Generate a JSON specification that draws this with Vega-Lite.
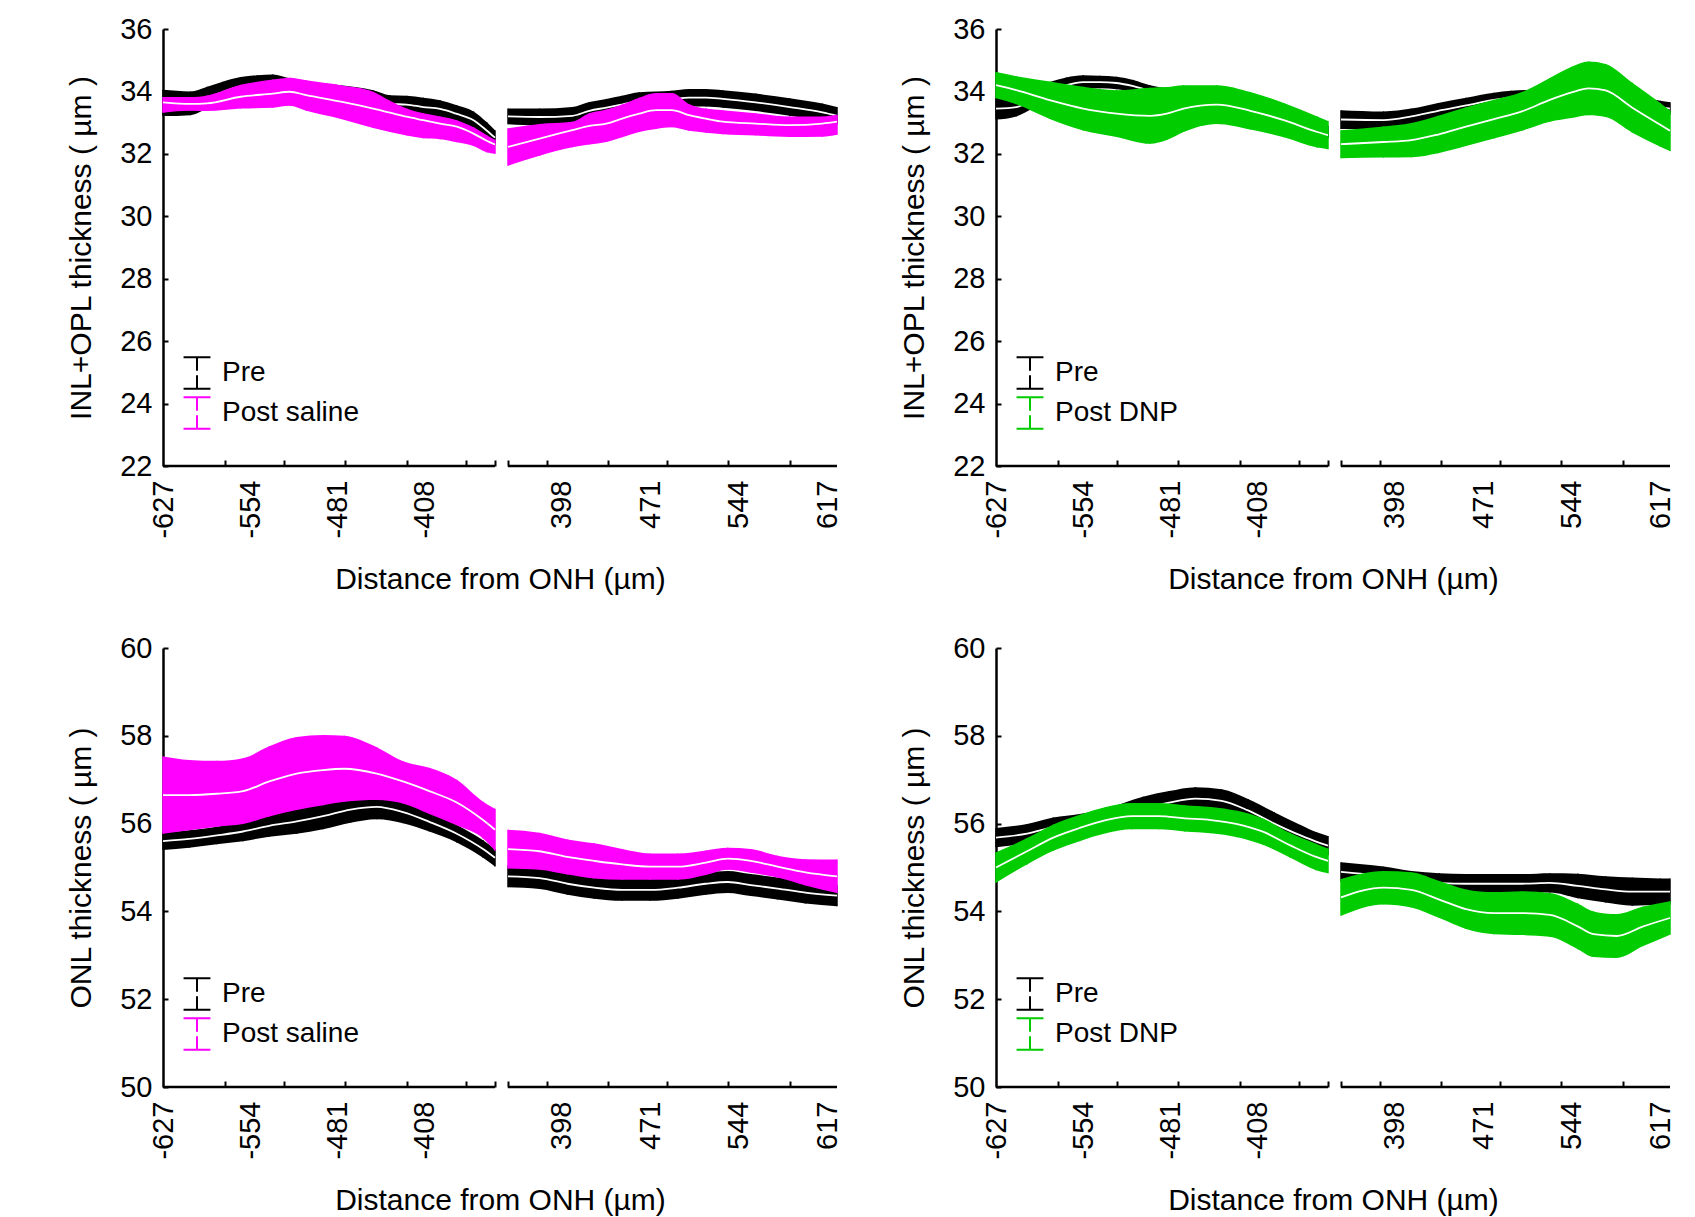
{
"$schema": "https://vega.github.io/schema/vega-lite/v6.json",
"background": "white",
"padding": {"left": 66, "top": 15, "right": 10, "bottom": 10},
"config": {"font": "Liberation Sans", "view": {"stroke": null}, "axis": {"labelColor": "black", "titleColor": "black", "labelFont": "Liberation Sans", "titleFont": "Liberation Sans", "grid": false}, "legend": {"labelFont": "Liberation Sans", "labelColor": "black"}},
"datasets": {"d": [
{"p":"A","s":"Pre","x":-627,"m":33.63,"lo":33.21,"hi":34.05},
{"p":"A","s":"Pre","x":-604,"m":33.62,"lo":33.24,"hi":34.0},
{"p":"A","s":"Pre","x":-590,"m":33.8,"lo":33.45,"hi":34.15},
{"p":"A","s":"Pre","x":-577,"m":33.98,"lo":33.65,"hi":34.31},
{"p":"A","s":"Pre","x":-562,"m":34.16,"lo":33.86,"hi":34.46},
{"p":"A","s":"Pre","x":-548,"m":34.22,"lo":33.92,"hi":34.52},
{"p":"A","s":"Pre","x":-535,"m":34.24,"lo":33.94,"hi":34.54},
{"p":"A","s":"Pre","x":-521,"m":34.14,"lo":33.86,"hi":34.42},
{"p":"A","s":"Pre","x":-507,"m":34.03,"lo":33.75,"hi":34.31},
{"p":"A","s":"Pre","x":-478,"m":33.92,"lo":33.64,"hi":34.2},
{"p":"A","s":"Pre","x":-451,"m":33.76,"lo":33.48,"hi":34.04},
{"p":"A","s":"Pre","x":-437,"m":33.6,"lo":33.32,"hi":33.88},
{"p":"A","s":"Pre","x":-423,"m":33.58,"lo":33.3,"hi":33.86},
{"p":"A","s":"Pre","x":-409,"m":33.5,"lo":33.22,"hi":33.8},
{"p":"A","s":"Pre","x":-395,"m":33.44,"lo":33.16,"hi":33.72},
{"p":"A","s":"Pre","x":-381,"m":33.28,"lo":33.0,"hi":33.56},
{"p":"A","s":"Pre","x":-367,"m":33.08,"lo":32.8,"hi":33.36},
{"p":"A","s":"Pre","x":-356,"m":32.75,"lo":32.48,"hi":33.02},
{"p":"A","s":"Pre","x":-349,"m":32.52,"lo":32.3,"hi":32.76},
{"p":"A","s":"Pre","x":354,"m":33.2,"lo":32.95,"hi":33.45},
{"p":"A","s":"Pre","x":380,"m":33.18,"lo":32.91,"hi":33.45},
{"p":"A","s":"Pre","x":407,"m":33.22,"lo":32.94,"hi":33.5},
{"p":"A","s":"Pre","x":421,"m":33.38,"lo":33.1,"hi":33.66},
{"p":"A","s":"Pre","x":435,"m":33.48,"lo":33.2,"hi":33.76},
{"p":"A","s":"Pre","x":448,"m":33.58,"lo":33.3,"hi":33.86},
{"p":"A","s":"Pre","x":462,"m":33.69,"lo":33.41,"hi":33.97},
{"p":"A","s":"Pre","x":489,"m":33.74,"lo":33.46,"hi":34.02},
{"p":"A","s":"Pre","x":503,"m":33.8,"lo":33.52,"hi":34.08},
{"p":"A","s":"Pre","x":517,"m":33.8,"lo":33.52,"hi":34.08},
{"p":"A","s":"Pre","x":531,"m":33.76,"lo":33.48,"hi":34.04},
{"p":"A","s":"Pre","x":558,"m":33.65,"lo":33.37,"hi":33.93},
{"p":"A","s":"Pre","x":586,"m":33.5,"lo":33.22,"hi":33.78},
{"p":"A","s":"Pre","x":613,"m":33.33,"lo":33.05,"hi":33.61},
{"p":"A","s":"Pre","x":625,"m":33.22,"lo":32.94,"hi":33.5},
{"p":"A","s":"Post saline","x":-627,"m":33.65,"lo":33.32,"hi":33.82},
{"p":"A","s":"Post saline","x":-604,"m":33.6,"lo":33.38,"hi":33.82},
{"p":"A","s":"Post saline","x":-590,"m":33.62,"lo":33.37,"hi":33.87},
{"p":"A","s":"Post saline","x":-562,"m":33.83,"lo":33.45,"hi":34.21},
{"p":"A","s":"Post saline","x":-535,"m":33.93,"lo":33.48,"hi":34.38},
{"p":"A","s":"Post saline","x":-521,"m":33.99,"lo":33.54,"hi":34.44},
{"p":"A","s":"Post saline","x":-507,"m":33.88,"lo":33.38,"hi":34.36},
{"p":"A","s":"Post saline","x":-478,"m":33.67,"lo":33.12,"hi":34.2},
{"p":"A","s":"Post saline","x":-451,"m":33.45,"lo":32.83,"hi":33.99},
{"p":"A","s":"Post saline","x":-437,"m":33.32,"lo":32.7,"hi":33.7},
{"p":"A","s":"Post saline","x":-423,"m":33.19,"lo":32.59,"hi":33.45},
{"p":"A","s":"Post saline","x":-409,"m":33.08,"lo":32.5,"hi":33.3},
{"p":"A","s":"Post saline","x":-395,"m":32.97,"lo":32.47,"hi":33.2},
{"p":"A","s":"Post saline","x":-381,"m":32.87,"lo":32.37,"hi":33.08},
{"p":"A","s":"Post saline","x":-367,"m":32.65,"lo":32.25,"hi":32.85},
{"p":"A","s":"Post saline","x":-356,"m":32.42,"lo":32.05,"hi":32.6},
{"p":"A","s":"Post saline","x":-349,"m":32.3,"lo":32.0,"hi":32.45},
{"p":"A","s":"Post saline","x":354,"m":32.22,"lo":31.62,"hi":32.82},
{"p":"A","s":"Post saline","x":380,"m":32.49,"lo":31.94,"hi":32.96},
{"p":"A","s":"Post saline","x":407,"m":32.76,"lo":32.21,"hi":33.03},
{"p":"A","s":"Post saline","x":421,"m":32.9,"lo":32.3,"hi":33.3},
{"p":"A","s":"Post saline","x":435,"m":32.97,"lo":32.38,"hi":33.42},
{"p":"A","s":"Post saline","x":448,"m":33.13,"lo":32.53,"hi":33.58},
{"p":"A","s":"Post saline","x":462,"m":33.29,"lo":32.7,"hi":33.8},
{"p":"A","s":"Post saline","x":476,"m":33.4,"lo":32.8,"hi":33.95},
{"p":"A","s":"Post saline","x":489,"m":33.4,"lo":32.85,"hi":33.95},
{"p":"A","s":"Post saline","x":503,"m":33.24,"lo":32.74,"hi":33.6},
{"p":"A","s":"Post saline","x":517,"m":33.13,"lo":32.68,"hi":33.45},
{"p":"A","s":"Post saline","x":531,"m":33.03,"lo":32.63,"hi":33.4},
{"p":"A","s":"Post saline","x":558,"m":32.97,"lo":32.59,"hi":33.3},
{"p":"A","s":"Post saline","x":586,"m":32.92,"lo":32.54,"hi":33.2},
{"p":"A","s":"Post saline","x":613,"m":32.97,"lo":32.55,"hi":33.2},
{"p":"A","s":"Post saline","x":625,"m":33.03,"lo":32.61,"hi":33.25},
{"p":"B","s":"Pre","x":-627,"m":33.45,"lo":33.1,"hi":33.8},
{"p":"B","s":"Pre","x":-610,"m":33.5,"lo":33.2,"hi":33.8},
{"p":"B","s":"Pre","x":-596,"m":33.75,"lo":33.45,"hi":34.05},
{"p":"B","s":"Pre","x":-582,"m":34.0,"lo":33.7,"hi":34.3},
{"p":"B","s":"Pre","x":-568,"m":34.2,"lo":33.95,"hi":34.45},
{"p":"B","s":"Pre","x":-554,"m":34.3,"lo":34.08,"hi":34.52},
{"p":"B","s":"Pre","x":-540,"m":34.3,"lo":34.1,"hi":34.5},
{"p":"B","s":"Pre","x":-526,"m":34.27,"lo":34.07,"hi":34.47},
{"p":"B","s":"Pre","x":-512,"m":34.17,"lo":33.97,"hi":34.37},
{"p":"B","s":"Pre","x":-498,"m":34.02,"lo":33.84,"hi":34.2},
{"p":"B","s":"Pre","x":-484,"m":33.92,"lo":33.74,"hi":34.1},
{"p":"B","s":"Pre","x":-470,"m":33.85,"lo":33.65,"hi":34.05},
{"p":"B","s":"Pre","x":-442,"m":33.7,"lo":33.5,"hi":33.9},
{"p":"B","s":"Pre","x":-414,"m":33.5,"lo":33.3,"hi":33.7},
{"p":"B","s":"Pre","x":-386,"m":33.2,"lo":33.0,"hi":33.4},
{"p":"B","s":"Pre","x":-358,"m":32.8,"lo":32.6,"hi":33.0},
{"p":"B","s":"Pre","x":-349,"m":32.7,"lo":32.5,"hi":32.9},
{"p":"B","s":"Pre","x":354,"m":33.1,"lo":32.8,"hi":33.4},
{"p":"B","s":"Pre","x":389,"m":33.08,"lo":32.8,"hi":33.36},
{"p":"B","s":"Pre","x":412,"m":33.2,"lo":32.95,"hi":33.45},
{"p":"B","s":"Pre","x":434,"m":33.38,"lo":33.13,"hi":33.63},
{"p":"B","s":"Pre","x":457,"m":33.55,"lo":33.3,"hi":33.8},
{"p":"B","s":"Pre","x":480,"m":33.73,"lo":33.5,"hi":33.96},
{"p":"B","s":"Pre","x":494,"m":33.8,"lo":33.58,"hi":34.02},
{"p":"B","s":"Pre","x":520,"m":33.85,"lo":33.65,"hi":34.05},
{"p":"B","s":"Pre","x":548,"m":33.8,"lo":33.6,"hi":34.0},
{"p":"B","s":"Pre","x":576,"m":33.72,"lo":33.52,"hi":33.92},
{"p":"B","s":"Pre","x":600,"m":33.62,"lo":33.42,"hi":33.82},
{"p":"B","s":"Pre","x":617,"m":33.5,"lo":33.3,"hi":33.7},
{"p":"B","s":"Pre","x":625,"m":33.45,"lo":33.25,"hi":33.65},
{"p":"B","s":"Post DNP","x":-627,"m":34.2,"lo":33.78,"hi":34.62},
{"p":"B","s":"Post DNP","x":-610,"m":34.04,"lo":33.59,"hi":34.49},
{"p":"B","s":"Post DNP","x":-582,"m":33.72,"lo":33.12,"hi":34.32},
{"p":"B","s":"Post DNP","x":-554,"m":33.45,"lo":32.75,"hi":34.15},
{"p":"B","s":"Post DNP","x":-526,"m":33.29,"lo":32.54,"hi":34.04},
{"p":"B","s":"Post DNP","x":-498,"m":33.22,"lo":32.32,"hi":34.12},
{"p":"B","s":"Post DNP","x":-484,"m":33.29,"lo":32.44,"hi":34.14},
{"p":"B","s":"Post DNP","x":-470,"m":33.45,"lo":32.7,"hi":34.2},
{"p":"B","s":"Post DNP","x":-442,"m":33.58,"lo":32.96,"hi":34.2},
{"p":"B","s":"Post DNP","x":-414,"m":33.38,"lo":32.78,"hi":33.98},
{"p":"B","s":"Post DNP","x":-386,"m":33.08,"lo":32.53,"hi":33.63},
{"p":"B","s":"Post DNP","x":-358,"m":32.7,"lo":32.2,"hi":33.2},
{"p":"B","s":"Post DNP","x":-349,"m":32.6,"lo":32.15,"hi":33.05},
{"p":"B","s":"Post DNP","x":354,"m":32.31,"lo":31.86,"hi":32.76},
{"p":"B","s":"Post DNP","x":389,"m":32.38,"lo":31.88,"hi":32.88},
{"p":"B","s":"Post DNP","x":412,"m":32.44,"lo":31.89,"hi":32.99},
{"p":"B","s":"Post DNP","x":434,"m":32.62,"lo":32.02,"hi":33.22},
{"p":"B","s":"Post DNP","x":457,"m":32.87,"lo":32.25,"hi":33.49},
{"p":"B","s":"Post DNP","x":480,"m":33.11,"lo":32.49,"hi":33.73},
{"p":"B","s":"Post DNP","x":503,"m":33.36,"lo":32.74,"hi":33.98},
{"p":"B","s":"Post DNP","x":526,"m":33.73,"lo":33.03,"hi":34.43},
{"p":"B","s":"Post DNP","x":544,"m":33.97,"lo":33.15,"hi":34.79},
{"p":"B","s":"Post DNP","x":558,"m":34.1,"lo":33.24,"hi":34.96},
{"p":"B","s":"Post DNP","x":572,"m":34.03,"lo":33.18,"hi":34.88},
{"p":"B","s":"Post DNP","x":594,"m":33.48,"lo":32.68,"hi":34.28},
{"p":"B","s":"Post DNP","x":617,"m":32.93,"lo":32.23,"hi":33.63},
{"p":"B","s":"Post DNP","x":625,"m":32.74,"lo":32.09,"hi":33.39},
{"p":"C","s":"Pre","x":-627,"m":55.6,"lo":55.4,"hi":55.8},
{"p":"C","s":"Pre","x":-605,"m":55.65,"lo":55.45,"hi":55.85},
{"p":"C","s":"Pre","x":-582,"m":55.73,"lo":55.53,"hi":55.93},
{"p":"C","s":"Pre","x":-560,"m":55.82,"lo":55.6,"hi":56.04},
{"p":"C","s":"Pre","x":-538,"m":55.95,"lo":55.7,"hi":56.2},
{"p":"C","s":"Pre","x":-515,"m":56.05,"lo":55.77,"hi":56.33},
{"p":"C","s":"Pre","x":-493,"m":56.17,"lo":55.87,"hi":56.47},
{"p":"C","s":"Pre","x":-470,"m":56.32,"lo":56.02,"hi":56.62},
{"p":"C","s":"Pre","x":-448,"m":56.38,"lo":56.1,"hi":56.66},
{"p":"C","s":"Pre","x":-426,"m":56.26,"lo":56.01,"hi":56.51},
{"p":"C","s":"Pre","x":-404,"m":56.04,"lo":55.82,"hi":56.26},
{"p":"C","s":"Pre","x":-381,"m":55.77,"lo":55.57,"hi":55.97},
{"p":"C","s":"Pre","x":-359,"m":55.42,"lo":55.22,"hi":55.62},
{"p":"C","s":"Pre","x":-349,"m":55.22,"lo":55.02,"hi":55.42},
{"p":"C","s":"Pre","x":354,"m":54.8,"lo":54.55,"hi":55.05},
{"p":"C","s":"Pre","x":380,"m":54.76,"lo":54.51,"hi":55.01},
{"p":"C","s":"Pre","x":403,"m":54.63,"lo":54.38,"hi":54.88},
{"p":"C","s":"Pre","x":425,"m":54.54,"lo":54.29,"hi":54.79},
{"p":"C","s":"Pre","x":448,"m":54.49,"lo":54.24,"hi":54.74},
{"p":"C","s":"Pre","x":471,"m":54.49,"lo":54.24,"hi":54.74},
{"p":"C","s":"Pre","x":494,"m":54.54,"lo":54.29,"hi":54.79},
{"p":"C","s":"Pre","x":517,"m":54.63,"lo":54.38,"hi":54.88},
{"p":"C","s":"Pre","x":535,"m":54.67,"lo":54.42,"hi":54.92},
{"p":"C","s":"Pre","x":554,"m":54.6,"lo":54.35,"hi":54.85},
{"p":"C","s":"Pre","x":576,"m":54.52,"lo":54.27,"hi":54.77},
{"p":"C","s":"Pre","x":599,"m":54.43,"lo":54.18,"hi":54.68},
{"p":"C","s":"Pre","x":625,"m":54.36,"lo":54.12,"hi":54.6},
{"p":"C","s":"Post saline","x":-627,"m":56.65,"lo":55.77,"hi":57.53},
{"p":"C","s":"Post saline","x":-605,"m":56.65,"lo":55.85,"hi":57.45},
{"p":"C","s":"Post saline","x":-582,"m":56.68,"lo":55.93,"hi":57.43},
{"p":"C","s":"Post saline","x":-560,"m":56.74,"lo":55.99,"hi":57.49},
{"p":"C","s":"Post saline","x":-538,"m":56.96,"lo":56.16,"hi":57.76},
{"p":"C","s":"Post saline","x":-515,"m":57.14,"lo":56.31,"hi":57.97},
{"p":"C","s":"Post saline","x":-493,"m":57.22,"lo":56.42,"hi":58.02},
{"p":"C","s":"Post saline","x":-475,"m":57.25,"lo":56.5,"hi":58.0},
{"p":"C","s":"Post saline","x":-448,"m":57.14,"lo":56.54,"hi":57.74},
{"p":"C","s":"Post saline","x":-426,"m":56.96,"lo":56.46,"hi":57.42},
{"p":"C","s":"Post saline","x":-404,"m":56.74,"lo":56.22,"hi":57.27},
{"p":"C","s":"Post saline","x":-381,"m":56.48,"lo":55.96,"hi":57.0},
{"p":"C","s":"Post saline","x":-359,"m":56.08,"lo":55.66,"hi":56.5},
{"p":"C","s":"Post saline","x":-349,"m":55.86,"lo":55.38,"hi":56.34},
{"p":"C","s":"Post saline","x":354,"m":55.42,"lo":54.98,"hi":55.86},
{"p":"C","s":"Post saline","x":380,"m":55.37,"lo":54.95,"hi":55.79},
{"p":"C","s":"Post saline","x":403,"m":55.24,"lo":54.84,"hi":55.64},
{"p":"C","s":"Post saline","x":425,"m":55.15,"lo":54.75,"hi":55.55},
{"p":"C","s":"Post saline","x":448,"m":55.07,"lo":54.72,"hi":55.42},
{"p":"C","s":"Post saline","x":471,"m":55.02,"lo":54.72,"hi":55.32},
{"p":"C","s":"Post saline","x":494,"m":55.02,"lo":54.72,"hi":55.32},
{"p":"C","s":"Post saline","x":517,"m":55.11,"lo":54.83,"hi":55.39},
{"p":"C","s":"Post saline","x":535,"m":55.2,"lo":54.95,"hi":55.45},
{"p":"C","s":"Post saline","x":554,"m":55.15,"lo":54.88,"hi":55.42},
{"p":"C","s":"Post saline","x":576,"m":55.02,"lo":54.77,"hi":55.27},
{"p":"C","s":"Post saline","x":599,"m":54.89,"lo":54.59,"hi":55.19},
{"p":"C","s":"Post saline","x":625,"m":54.8,"lo":54.42,"hi":55.18},
{"p":"D","s":"Pre","x":-627,"m":55.68,"lo":55.46,"hi":55.9},
{"p":"D","s":"Pre","x":-601,"m":55.77,"lo":55.55,"hi":55.99},
{"p":"D","s":"Pre","x":-579,"m":55.92,"lo":55.7,"hi":56.14},
{"p":"D","s":"Pre","x":-557,"m":56.0,"lo":55.78,"hi":56.22},
{"p":"D","s":"Pre","x":-535,"m":56.1,"lo":55.86,"hi":56.34},
{"p":"D","s":"Pre","x":-504,"m":56.35,"lo":56.09,"hi":56.61},
{"p":"D","s":"Pre","x":-482,"m":56.48,"lo":56.22,"hi":56.74},
{"p":"D","s":"Pre","x":-460,"m":56.57,"lo":56.31,"hi":56.83},
{"p":"D","s":"Pre","x":-438,"m":56.52,"lo":56.26,"hi":56.78},
{"p":"D","s":"Pre","x":-416,"m":56.3,"lo":56.04,"hi":56.56},
{"p":"D","s":"Pre","x":-394,"m":56.0,"lo":55.74,"hi":56.26},
{"p":"D","s":"Pre","x":-372,"m":55.73,"lo":55.49,"hi":55.97},
{"p":"D","s":"Pre","x":-359,"m":55.59,"lo":55.37,"hi":55.81},
{"p":"D","s":"Pre","x":-349,"m":55.5,"lo":55.28,"hi":55.72},
{"p":"D","s":"Pre","x":354,"m":54.9,"lo":54.68,"hi":55.12},
{"p":"D","s":"Pre","x":389,"m":54.8,"lo":54.58,"hi":55.02},
{"p":"D","s":"Pre","x":412,"m":54.7,"lo":54.48,"hi":54.92},
{"p":"D","s":"Pre","x":435,"m":54.65,"lo":54.43,"hi":54.87},
{"p":"D","s":"Pre","x":457,"m":54.63,"lo":54.41,"hi":54.85},
{"p":"D","s":"Pre","x":480,"m":54.63,"lo":54.41,"hi":54.85},
{"p":"D","s":"Pre","x":503,"m":54.63,"lo":54.41,"hi":54.85},
{"p":"D","s":"Pre","x":526,"m":54.65,"lo":54.43,"hi":54.87},
{"p":"D","s":"Pre","x":549,"m":54.58,"lo":54.3,"hi":54.86},
{"p":"D","s":"Pre","x":572,"m":54.5,"lo":54.2,"hi":54.8},
{"p":"D","s":"Pre","x":594,"m":54.45,"lo":54.13,"hi":54.77},
{"p":"D","s":"Pre","x":617,"m":54.45,"lo":54.15,"hi":54.75},
{"p":"D","s":"Pre","x":625,"m":54.45,"lo":54.15,"hi":54.75},
{"p":"D","s":"Post DNP","x":-627,"m":55.0,"lo":54.65,"hi":55.35},
{"p":"D","s":"Post DNP","x":-601,"m":55.37,"lo":55.07,"hi":55.67},
{"p":"D","s":"Post DNP","x":-579,"m":55.68,"lo":55.38,"hi":55.98},
{"p":"D","s":"Post DNP","x":-557,"m":55.9,"lo":55.6,"hi":56.2},
{"p":"D","s":"Post DNP","x":-535,"m":56.08,"lo":55.78,"hi":56.38},
{"p":"D","s":"Post DNP","x":-513,"m":56.17,"lo":55.87,"hi":56.47},
{"p":"D","s":"Post DNP","x":-491,"m":56.17,"lo":55.87,"hi":56.47},
{"p":"D","s":"Post DNP","x":-469,"m":56.12,"lo":55.82,"hi":56.42},
{"p":"D","s":"Post DNP","x":-447,"m":56.08,"lo":55.78,"hi":56.38},
{"p":"D","s":"Post DNP","x":-425,"m":55.99,"lo":55.69,"hi":56.29},
{"p":"D","s":"Post DNP","x":-403,"m":55.81,"lo":55.51,"hi":56.11},
{"p":"D","s":"Post DNP","x":-381,"m":55.51,"lo":55.23,"hi":55.79},
{"p":"D","s":"Post DNP","x":-359,"m":55.24,"lo":54.94,"hi":55.54},
{"p":"D","s":"Post DNP","x":-349,"m":55.15,"lo":54.87,"hi":55.43},
{"p":"D","s":"Post DNP","x":354,"m":54.32,"lo":53.9,"hi":54.74},
{"p":"D","s":"Post DNP","x":389,"m":54.54,"lo":54.16,"hi":54.92},
{"p":"D","s":"Post DNP","x":412,"m":54.49,"lo":54.09,"hi":54.89},
{"p":"D","s":"Post DNP","x":435,"m":54.27,"lo":53.85,"hi":54.69},
{"p":"D","s":"Post DNP","x":457,"m":54.05,"lo":53.6,"hi":54.5},
{"p":"D","s":"Post DNP","x":480,"m":53.96,"lo":53.48,"hi":54.44},
{"p":"D","s":"Post DNP","x":503,"m":53.96,"lo":53.46,"hi":54.46},
{"p":"D","s":"Post DNP","x":526,"m":53.92,"lo":53.42,"hi":54.42},
{"p":"D","s":"Post DNP","x":549,"m":53.66,"lo":53.14,"hi":54.18},
{"p":"D","s":"Post DNP","x":562,"m":53.48,"lo":52.96,"hi":54.0},
{"p":"D","s":"Post DNP","x":581,"m":53.44,"lo":52.94,"hi":53.94},
{"p":"D","s":"Post DNP","x":603,"m":53.66,"lo":53.21,"hi":54.11},
{"p":"D","s":"Post DNP","x":625,"m":53.85,"lo":53.47,"hi":54.23}
]},
"data": {"name": "d"},
"columns": 2,
"spacing": {"row": 182, "column": 159},
"bounds": "flush",
"resolve": {"scale": {"x": "independent", "y": "independent", "stroke": "independent"}, "legend": {"stroke": "independent"}, "axis": {"x": "independent", "y": "independent"}},
"concat": [
{
 "width": 674, "height": 437,
 "transform": [{"filter": "datum.p == 'A'"}],
 "resolve": {"axis": {"x": "independent", "y": "independent"}},
 "encoding": {"x": {"field": "x", "type": "quantitative", "scale": {"domain": [-627, -349, 354, 625], "range": [0, 332, 345, 674], "nice": false, "zero": false}, "axis": null}},
 "layer": [
  {"transform": [{"filter": "datum.s == 'Pre'"}], "mark": {"type": "area", "color": "black", "interpolate": "monotone"},
   "encoding": {"x": {"field": "x", "type": "quantitative", "scale": {"domain": [-627, -349, 354, 625], "range": [0, 332, 345, 674], "nice": false, "zero": false}, "axis": {"orient": "bottom", "values": [-627, -554, -481, -408, 398, 471, 544, 617], "labelExpr": "'' + datum.value", "labelAngle": 270, "ticks": false, "domain": false, "labelPadding": 14, "labelFontSize": 29, "labelFlush": false, "labelOverlap": false, "title": "Distance from ONH (µm)", "titleFontSize": 30, "titleFontWeight": "normal", "titlePadding": 26}},
    "y": {"field": "lo", "type": "quantitative", "scale": {"domain": [22, 36], "nice": false, "zero": false}, "axis": {"orient": "left", "values": [22, 24, 26, 28, 30, 32, 34, 36], "tickSize": -5, "tickWidth": 2, "tickColor": "black", "domainColor": "black", "domainWidth": 2.5, "labelFontSize": 29, "labelPadding": 16, "title": "INL+OPL thickness ( µm )", "titleFontSize": 30, "titleFontWeight": "normal", "titlePadding": 23}},
    "y2": {"field": "hi"}, "detail": {"field": "x", "type": "quantitative", "bin": {"extent": [-700, 700], "step": 700}}}},
  {"transform": [{"filter": "datum.s == 'Pre'"}], "mark": {"type": "rule", "strokeWidth": 1.5},
   "encoding": {"y": {"field": "lo", "type": "quantitative", "scale": {"domain": [22, 36], "nice": false, "zero": false}, "axis": null}, "y2": {"field": "hi"},
    "stroke": {"field": "s", "type": "nominal", "scale": {"domain": ["Pre", "Post saline"], "range": ["black", "#ff00ff"]}, "legend": {"title": null, "orient": "none", "legendX": 17, "legendY": 327, "padding": 0, "symbolType": "M-0.85,-1H0.85M0,-1V-0.15M0,0.15V1M-0.85,1H0.85", "symbolSize": 1000, "symbolStrokeWidth": 2, "labelFontSize": 28, "labelOffset": 8, "rowPadding": 0}}}},
  {"transform": [{"filter": "datum.s == 'Pre'"}], "mark": {"type": "line", "color": "white", "strokeWidth": 1.8, "interpolate": "monotone"},
   "encoding": {"y": {"field": "m", "type": "quantitative", "scale": {"domain": [22, 36], "nice": false, "zero": false}, "axis": null}, "detail": {"field": "x", "type": "quantitative", "bin": {"extent": [-700, 700], "step": 700}}}},
  {"transform": [{"filter": "datum.s != 'Pre'"}], "mark": {"type": "area", "color": "#ff00ff", "interpolate": "monotone"},
   "encoding": {"y": {"field": "lo", "type": "quantitative", "scale": {"domain": [22, 36], "nice": false, "zero": false}, "axis": null}, "y2": {"field": "hi"}, "detail": {"field": "x", "type": "quantitative", "bin": {"extent": [-700, 700], "step": 700}}}},
  {"transform": [{"filter": "datum.s != 'Pre'"}], "mark": {"type": "rule", "strokeWidth": 1.5},
   "encoding": {"y": {"field": "lo", "type": "quantitative", "scale": {"domain": [22, 36], "nice": false, "zero": false}, "axis": null}, "y2": {"field": "hi"},
    "stroke": {"field": "s", "type": "nominal", "scale": {"domain": ["Pre", "Post saline"], "range": ["black", "#ff00ff"]}, "legend": {"title": null, "orient": "none", "legendX": 17, "legendY": 327, "padding": 0, "symbolType": "M-0.85,-1H0.85M0,-1V-0.15M0,0.15V1M-0.85,1H0.85", "symbolSize": 1000, "symbolStrokeWidth": 2, "labelFontSize": 28, "labelOffset": 8, "rowPadding": 0}}}},
  {"transform": [{"filter": "datum.s != 'Pre'"}], "mark": {"type": "line", "color": "white", "strokeWidth": 1.8, "interpolate": "monotone"},
   "encoding": {"y": {"field": "m", "type": "quantitative", "scale": {"domain": [22, 36], "nice": false, "zero": false}, "axis": null}, "detail": {"field": "x", "type": "quantitative", "bin": {"extent": [-700, 700], "step": 700}}}},
  {"mark": {"type": "rule", "color": "black", "strokeWidth": 2.5},
   "encoding": {"x": {"field": "x", "aggregate": "min", "type": "quantitative", "scale": {"domain": [-627, -349, 354, 625], "range": [0, 332, 345, 674], "nice": false, "zero": false}, "axis": {"orient": "bottom", "values": [-575, -526, -475, -423, -373, -349, 354, 386, 436, 485, 535, 586], "labels": false, "domain": false, "ticks": true, "tickSize": -6, "tickWidth": 2, "tickColor": "black", "title": null}},
    "x2": {"field": "x", "aggregate": "max"},
    "y": {"datum": 22, "type": "quantitative", "scale": {"domain": [22, 36], "nice": false, "zero": false}, "axis": null},
    "detail": {"field": "x", "type": "quantitative", "bin": {"extent": [-700, 700], "step": 700}}}}
 ]
},
{
 "width": 674, "height": 437,
 "transform": [{"filter": "datum.p == 'B'"}],
 "resolve": {"axis": {"x": "independent", "y": "independent"}},
 "encoding": {"x": {"field": "x", "type": "quantitative", "scale": {"domain": [-627, -349, 354, 625], "range": [0, 332, 345, 674], "nice": false, "zero": false}, "axis": null}},
 "layer": [
  {"transform": [{"filter": "datum.s == 'Pre'"}], "mark": {"type": "area", "color": "black", "interpolate": "monotone"},
   "encoding": {"x": {"field": "x", "type": "quantitative", "scale": {"domain": [-627, -349, 354, 625], "range": [0, 332, 345, 674], "nice": false, "zero": false}, "axis": {"orient": "bottom", "values": [-627, -554, -481, -408, 398, 471, 544, 617], "labelExpr": "'' + datum.value", "labelAngle": 270, "ticks": false, "domain": false, "labelPadding": 14, "labelFontSize": 29, "labelFlush": false, "labelOverlap": false, "title": "Distance from ONH (µm)", "titleFontSize": 30, "titleFontWeight": "normal", "titlePadding": 26}},
    "y": {"field": "lo", "type": "quantitative", "scale": {"domain": [22, 36], "nice": false, "zero": false}, "axis": {"orient": "left", "values": [22, 24, 26, 28, 30, 32, 34, 36], "tickSize": -5, "tickWidth": 2, "tickColor": "black", "domainColor": "black", "domainWidth": 2.5, "labelFontSize": 29, "labelPadding": 16, "title": "INL+OPL thickness ( µm )", "titleFontSize": 30, "titleFontWeight": "normal", "titlePadding": 23}},
    "y2": {"field": "hi"}, "detail": {"field": "x", "type": "quantitative", "bin": {"extent": [-700, 700], "step": 700}}}},
  {"transform": [{"filter": "datum.s == 'Pre'"}], "mark": {"type": "rule", "strokeWidth": 1.5},
   "encoding": {"y": {"field": "lo", "type": "quantitative", "scale": {"domain": [22, 36], "nice": false, "zero": false}, "axis": null}, "y2": {"field": "hi"},
    "stroke": {"field": "s", "type": "nominal", "scale": {"domain": ["Pre", "Post DNP"], "range": ["black", "#00cc00"]}, "legend": {"title": null, "orient": "none", "legendX": 17, "legendY": 327, "padding": 0, "symbolType": "M-0.85,-1H0.85M0,-1V-0.15M0,0.15V1M-0.85,1H0.85", "symbolSize": 1000, "symbolStrokeWidth": 2, "labelFontSize": 28, "labelOffset": 8, "rowPadding": 0}}}},
  {"transform": [{"filter": "datum.s == 'Pre'"}], "mark": {"type": "line", "color": "white", "strokeWidth": 1.8, "interpolate": "monotone"},
   "encoding": {"y": {"field": "m", "type": "quantitative", "scale": {"domain": [22, 36], "nice": false, "zero": false}, "axis": null}, "detail": {"field": "x", "type": "quantitative", "bin": {"extent": [-700, 700], "step": 700}}}},
  {"transform": [{"filter": "datum.s != 'Pre'"}], "mark": {"type": "area", "color": "#00cc00", "interpolate": "monotone"},
   "encoding": {"y": {"field": "lo", "type": "quantitative", "scale": {"domain": [22, 36], "nice": false, "zero": false}, "axis": null}, "y2": {"field": "hi"}, "detail": {"field": "x", "type": "quantitative", "bin": {"extent": [-700, 700], "step": 700}}}},
  {"transform": [{"filter": "datum.s != 'Pre'"}], "mark": {"type": "rule", "strokeWidth": 1.5},
   "encoding": {"y": {"field": "lo", "type": "quantitative", "scale": {"domain": [22, 36], "nice": false, "zero": false}, "axis": null}, "y2": {"field": "hi"},
    "stroke": {"field": "s", "type": "nominal", "scale": {"domain": ["Pre", "Post DNP"], "range": ["black", "#00cc00"]}, "legend": {"title": null, "orient": "none", "legendX": 17, "legendY": 327, "padding": 0, "symbolType": "M-0.85,-1H0.85M0,-1V-0.15M0,0.15V1M-0.85,1H0.85", "symbolSize": 1000, "symbolStrokeWidth": 2, "labelFontSize": 28, "labelOffset": 8, "rowPadding": 0}}}},
  {"transform": [{"filter": "datum.s != 'Pre'"}], "mark": {"type": "line", "color": "white", "strokeWidth": 1.8, "interpolate": "monotone"},
   "encoding": {"y": {"field": "m", "type": "quantitative", "scale": {"domain": [22, 36], "nice": false, "zero": false}, "axis": null}, "detail": {"field": "x", "type": "quantitative", "bin": {"extent": [-700, 700], "step": 700}}}},
  {"mark": {"type": "rule", "color": "black", "strokeWidth": 2.5},
   "encoding": {"x": {"field": "x", "aggregate": "min", "type": "quantitative", "scale": {"domain": [-627, -349, 354, 625], "range": [0, 332, 345, 674], "nice": false, "zero": false}, "axis": {"orient": "bottom", "values": [-575, -526, -475, -423, -373, -349, 354, 386, 436, 485, 535, 586], "labels": false, "domain": false, "ticks": true, "tickSize": -6, "tickWidth": 2, "tickColor": "black", "title": null}},
    "x2": {"field": "x", "aggregate": "max"},
    "y": {"datum": 22, "type": "quantitative", "scale": {"domain": [22, 36], "nice": false, "zero": false}, "axis": null},
    "detail": {"field": "x", "type": "quantitative", "bin": {"extent": [-700, 700], "step": 700}}}}
 ]
},
{
 "width": 674, "height": 439,
 "transform": [{"filter": "datum.p == 'C'"}],
 "resolve": {"axis": {"x": "independent", "y": "independent"}},
 "encoding": {"x": {"field": "x", "type": "quantitative", "scale": {"domain": [-627, -349, 354, 625], "range": [0, 332, 345, 674], "nice": false, "zero": false}, "axis": null}},
 "layer": [
  {"transform": [{"filter": "datum.s == 'Pre'"}], "mark": {"type": "area", "color": "black", "interpolate": "monotone"},
   "encoding": {"x": {"field": "x", "type": "quantitative", "scale": {"domain": [-627, -349, 354, 625], "range": [0, 332, 345, 674], "nice": false, "zero": false}, "axis": {"orient": "bottom", "values": [-627, -554, -481, -408, 398, 471, 544, 617], "labelExpr": "'' + datum.value", "labelAngle": 270, "ticks": false, "domain": false, "labelPadding": 14, "labelFontSize": 29, "labelFlush": false, "labelOverlap": false, "title": "Distance from ONH (µm)", "titleFontSize": 30, "titleFontWeight": "normal", "titlePadding": 26}},
    "y": {"field": "lo", "type": "quantitative", "scale": {"domain": [50, 60], "nice": false, "zero": false}, "axis": {"orient": "left", "values": [50, 52, 54, 56, 58, 60], "tickSize": -5, "tickWidth": 2, "tickColor": "black", "domainColor": "black", "domainWidth": 2.5, "labelFontSize": 29, "labelPadding": 16, "title": "ONL thickness ( µm )", "titleFontSize": 30, "titleFontWeight": "normal", "titlePadding": 23}},
    "y2": {"field": "hi"}, "detail": {"field": "x", "type": "quantitative", "bin": {"extent": [-700, 700], "step": 700}}}},
  {"transform": [{"filter": "datum.s == 'Pre'"}], "mark": {"type": "rule", "strokeWidth": 1.5},
   "encoding": {"y": {"field": "lo", "type": "quantitative", "scale": {"domain": [50, 60], "nice": false, "zero": false}, "axis": null}, "y2": {"field": "hi"},
    "stroke": {"field": "s", "type": "nominal", "scale": {"domain": ["Pre", "Post saline"], "range": ["black", "#ff00ff"]}, "legend": {"title": null, "orient": "none", "legendX": 17, "legendY": 329, "padding": 0, "symbolType": "M-0.85,-1H0.85M0,-1V-0.15M0,0.15V1M-0.85,1H0.85", "symbolSize": 1000, "symbolStrokeWidth": 2, "labelFontSize": 28, "labelOffset": 8, "rowPadding": 0}}}},
  {"transform": [{"filter": "datum.s == 'Pre'"}], "mark": {"type": "line", "color": "white", "strokeWidth": 1.8, "interpolate": "monotone"},
   "encoding": {"y": {"field": "m", "type": "quantitative", "scale": {"domain": [50, 60], "nice": false, "zero": false}, "axis": null}, "detail": {"field": "x", "type": "quantitative", "bin": {"extent": [-700, 700], "step": 700}}}},
  {"transform": [{"filter": "datum.s != 'Pre'"}], "mark": {"type": "area", "color": "#ff00ff", "interpolate": "monotone"},
   "encoding": {"y": {"field": "lo", "type": "quantitative", "scale": {"domain": [50, 60], "nice": false, "zero": false}, "axis": null}, "y2": {"field": "hi"}, "detail": {"field": "x", "type": "quantitative", "bin": {"extent": [-700, 700], "step": 700}}}},
  {"transform": [{"filter": "datum.s != 'Pre'"}], "mark": {"type": "rule", "strokeWidth": 1.5},
   "encoding": {"y": {"field": "lo", "type": "quantitative", "scale": {"domain": [50, 60], "nice": false, "zero": false}, "axis": null}, "y2": {"field": "hi"},
    "stroke": {"field": "s", "type": "nominal", "scale": {"domain": ["Pre", "Post saline"], "range": ["black", "#ff00ff"]}, "legend": {"title": null, "orient": "none", "legendX": 17, "legendY": 329, "padding": 0, "symbolType": "M-0.85,-1H0.85M0,-1V-0.15M0,0.15V1M-0.85,1H0.85", "symbolSize": 1000, "symbolStrokeWidth": 2, "labelFontSize": 28, "labelOffset": 8, "rowPadding": 0}}}},
  {"transform": [{"filter": "datum.s != 'Pre'"}], "mark": {"type": "line", "color": "white", "strokeWidth": 1.8, "interpolate": "monotone"},
   "encoding": {"y": {"field": "m", "type": "quantitative", "scale": {"domain": [50, 60], "nice": false, "zero": false}, "axis": null}, "detail": {"field": "x", "type": "quantitative", "bin": {"extent": [-700, 700], "step": 700}}}},
  {"mark": {"type": "rule", "color": "black", "strokeWidth": 2.5},
   "encoding": {"x": {"field": "x", "aggregate": "min", "type": "quantitative", "scale": {"domain": [-627, -349, 354, 625], "range": [0, 332, 345, 674], "nice": false, "zero": false}, "axis": {"orient": "bottom", "values": [-575, -526, -475, -423, -373, -349, 354, 386, 436, 485, 535, 586], "labels": false, "domain": false, "ticks": true, "tickSize": -6, "tickWidth": 2, "tickColor": "black", "title": null}},
    "x2": {"field": "x", "aggregate": "max"},
    "y": {"datum": 50, "type": "quantitative", "scale": {"domain": [50, 60], "nice": false, "zero": false}, "axis": null},
    "detail": {"field": "x", "type": "quantitative", "bin": {"extent": [-700, 700], "step": 700}}}}
 ]
},
{
 "width": 674, "height": 439,
 "transform": [{"filter": "datum.p == 'D'"}],
 "resolve": {"axis": {"x": "independent", "y": "independent"}},
 "encoding": {"x": {"field": "x", "type": "quantitative", "scale": {"domain": [-627, -349, 354, 625], "range": [0, 332, 345, 674], "nice": false, "zero": false}, "axis": null}},
 "layer": [
  {"transform": [{"filter": "datum.s == 'Pre'"}], "mark": {"type": "area", "color": "black", "interpolate": "monotone"},
   "encoding": {"x": {"field": "x", "type": "quantitative", "scale": {"domain": [-627, -349, 354, 625], "range": [0, 332, 345, 674], "nice": false, "zero": false}, "axis": {"orient": "bottom", "values": [-627, -554, -481, -408, 398, 471, 544, 617], "labelExpr": "'' + datum.value", "labelAngle": 270, "ticks": false, "domain": false, "labelPadding": 14, "labelFontSize": 29, "labelFlush": false, "labelOverlap": false, "title": "Distance from ONH (µm)", "titleFontSize": 30, "titleFontWeight": "normal", "titlePadding": 26}},
    "y": {"field": "lo", "type": "quantitative", "scale": {"domain": [50, 60], "nice": false, "zero": false}, "axis": {"orient": "left", "values": [50, 52, 54, 56, 58, 60], "tickSize": -5, "tickWidth": 2, "tickColor": "black", "domainColor": "black", "domainWidth": 2.5, "labelFontSize": 29, "labelPadding": 16, "title": "ONL thickness ( µm )", "titleFontSize": 30, "titleFontWeight": "normal", "titlePadding": 23}},
    "y2": {"field": "hi"}, "detail": {"field": "x", "type": "quantitative", "bin": {"extent": [-700, 700], "step": 700}}}},
  {"transform": [{"filter": "datum.s == 'Pre'"}], "mark": {"type": "rule", "strokeWidth": 1.5},
   "encoding": {"y": {"field": "lo", "type": "quantitative", "scale": {"domain": [50, 60], "nice": false, "zero": false}, "axis": null}, "y2": {"field": "hi"},
    "stroke": {"field": "s", "type": "nominal", "scale": {"domain": ["Pre", "Post DNP"], "range": ["black", "#00cc00"]}, "legend": {"title": null, "orient": "none", "legendX": 17, "legendY": 329, "padding": 0, "symbolType": "M-0.85,-1H0.85M0,-1V-0.15M0,0.15V1M-0.85,1H0.85", "symbolSize": 1000, "symbolStrokeWidth": 2, "labelFontSize": 28, "labelOffset": 8, "rowPadding": 0}}}},
  {"transform": [{"filter": "datum.s == 'Pre'"}], "mark": {"type": "line", "color": "white", "strokeWidth": 1.8, "interpolate": "monotone"},
   "encoding": {"y": {"field": "m", "type": "quantitative", "scale": {"domain": [50, 60], "nice": false, "zero": false}, "axis": null}, "detail": {"field": "x", "type": "quantitative", "bin": {"extent": [-700, 700], "step": 700}}}},
  {"transform": [{"filter": "datum.s != 'Pre'"}], "mark": {"type": "area", "color": "#00cc00", "interpolate": "monotone"},
   "encoding": {"y": {"field": "lo", "type": "quantitative", "scale": {"domain": [50, 60], "nice": false, "zero": false}, "axis": null}, "y2": {"field": "hi"}, "detail": {"field": "x", "type": "quantitative", "bin": {"extent": [-700, 700], "step": 700}}}},
  {"transform": [{"filter": "datum.s != 'Pre'"}], "mark": {"type": "rule", "strokeWidth": 1.5},
   "encoding": {"y": {"field": "lo", "type": "quantitative", "scale": {"domain": [50, 60], "nice": false, "zero": false}, "axis": null}, "y2": {"field": "hi"},
    "stroke": {"field": "s", "type": "nominal", "scale": {"domain": ["Pre", "Post DNP"], "range": ["black", "#00cc00"]}, "legend": {"title": null, "orient": "none", "legendX": 17, "legendY": 329, "padding": 0, "symbolType": "M-0.85,-1H0.85M0,-1V-0.15M0,0.15V1M-0.85,1H0.85", "symbolSize": 1000, "symbolStrokeWidth": 2, "labelFontSize": 28, "labelOffset": 8, "rowPadding": 0}}}},
  {"transform": [{"filter": "datum.s != 'Pre'"}], "mark": {"type": "line", "color": "white", "strokeWidth": 1.8, "interpolate": "monotone"},
   "encoding": {"y": {"field": "m", "type": "quantitative", "scale": {"domain": [50, 60], "nice": false, "zero": false}, "axis": null}, "detail": {"field": "x", "type": "quantitative", "bin": {"extent": [-700, 700], "step": 700}}}},
  {"mark": {"type": "rule", "color": "black", "strokeWidth": 2.5},
   "encoding": {"x": {"field": "x", "aggregate": "min", "type": "quantitative", "scale": {"domain": [-627, -349, 354, 625], "range": [0, 332, 345, 674], "nice": false, "zero": false}, "axis": {"orient": "bottom", "values": [-575, -526, -475, -423, -373, -349, 354, 386, 436, 485, 535, 586], "labels": false, "domain": false, "ticks": true, "tickSize": -6, "tickWidth": 2, "tickColor": "black", "title": null}},
    "x2": {"field": "x", "aggregate": "max"},
    "y": {"datum": 50, "type": "quantitative", "scale": {"domain": [50, 60], "nice": false, "zero": false}, "axis": null},
    "detail": {"field": "x", "type": "quantitative", "bin": {"extent": [-700, 700], "step": 700}}}}
 ]
}
]
}
